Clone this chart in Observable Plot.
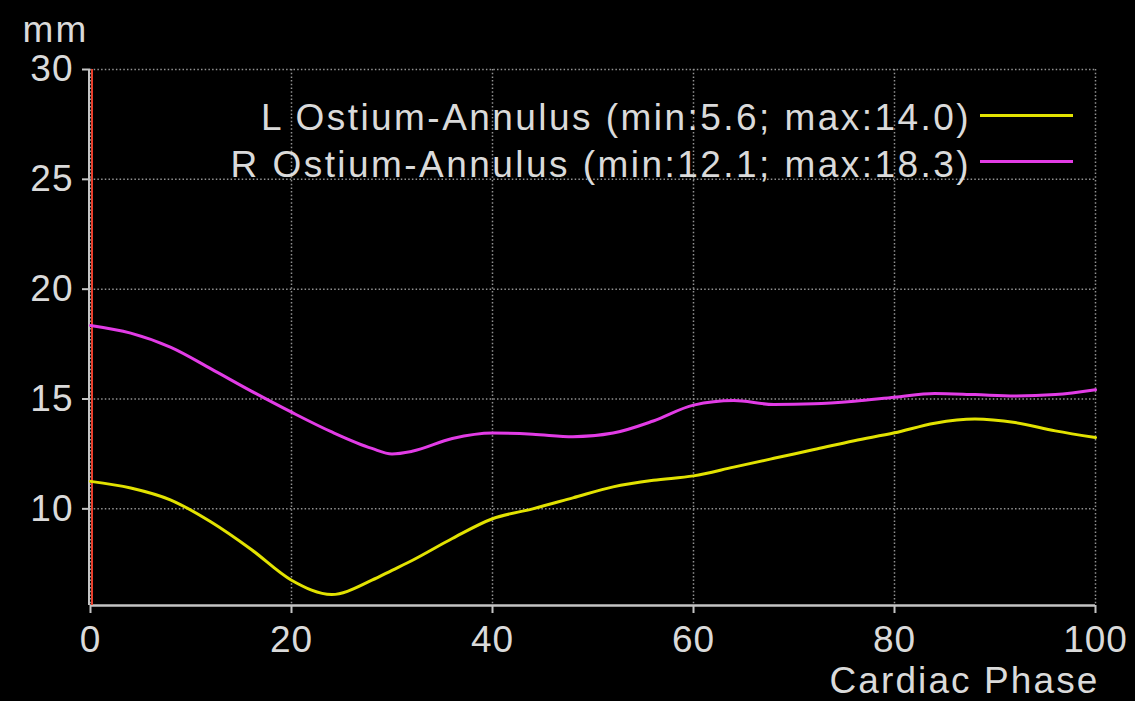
<!DOCTYPE html>
<html>
<head>
<meta charset="utf-8">
<script src="https://cdn.jsdelivr.net/npm/d3@7"></script>
<script src="https://cdn.jsdelivr.net/npm/@observablehq/plot@0.6"></script>
<style>
  html, body { margin: 0; padding: 0; background: #000; }
  #wrap { position: relative; width: 1135px; height: 701px; overflow: hidden; background: #000; }
  #wrap svg { display: block; }
  svg g[aria-label="text"] text { letter-spacing: 2.1px; }
  svg g[aria-label="x-axis tick label"] text, svg g[aria-label="y-axis tick label"] text { letter-spacing: 1px; }
  #legend { position: absolute; right: 62px; top: 95px; font-family: "Liberation Sans", Arial, sans-serif; font-size: 37px; color: #dadada; letter-spacing: 2.45px; }
  .row { display: flex; align-items: center; justify-content: flex-end; height: 46.5px; line-height: 46.5px; white-space: nowrap; }
  .sw { display: inline-block; width: 93px; height: 3px; margin-left: 9px; position: relative; top: -3px; }
</style>
</head>
<body>
<div id="wrap"></div>
<script>
// ---- data ----
const phase = [0,4,8,12,16,20,24,28,30,32,36,40,44,48,52,56,60,64,68,72,76,80,84,88,92,96,100];
const lOstium = [11.25,10.95,10.4,9.4,8.15,6.75,6.1,6.75,7.2,7.65,8.65,9.55,10.0,10.5,11.0,11.3,11.5,11.9,12.3,12.7,13.1,13.46,13.9,14.09,13.93,13.55,13.25];
const rOstium = [18.35,18.0,17.35,16.37,15.36,14.4,13.5,12.75,12.5,12.62,13.2,13.45,13.4,13.28,13.45,14.0,14.72,14.93,14.75,14.78,14.9,15.08,15.25,15.2,15.14,15.2,15.42];
const seriesNames = ["L Ostium-Annulus (min:5.6; max:14.0)", "R Ostium-Annulus (min:12.1; max:18.3)"];
const seriesColors = ["#e2e200", "#e23ce6"];
const xTicks = [0,20,40,60,80,100];
const yTicks = [10,15,20,25,30];
const xDomain = [0,100];
const yDomain = [5.6,30];
const yLabel = "mm";
const xLabel = "Cardiac Phase";

const rows = [];
phase.forEach((p,i) => rows.push({phase:p, value:lOstium[i], series:seriesNames[0]}));
phase.forEach((p,i) => rows.push({phase:p, value:rOstium[i], series:seriesNames[1]}));

const font = "'Liberation Sans', Arial, Helvetica, sans-serif";
const textColor = "#dadada";
const axisGray = "#c4c4c4";
const gridGray = "#929292";

const chart = Plot.plot({
  width: 1135,
  height: 701,
  marginLeft: 90,
  marginRight: 40,
  marginTop: 69,
  marginBottom: 96,
  style: {background: "#000", color: textColor, fontFamily: font, fontSize: "37px", overflow: "visible"},
  x: {domain: xDomain},
  y: {domain: yDomain},
  color: {domain: seriesNames, range: seriesColors},
  marks: [
    Plot.gridX(xTicks, {stroke: gridGray, strokeOpacity: 1, strokeWidth: 1.5, strokeDasharray: "1.5,2.2"}),
    Plot.gridY(yTicks, {stroke: gridGray, strokeOpacity: 1, strokeWidth: 1.5, strokeDasharray: "1.5,2.2"}),
    Plot.axisX(xTicks, {tickSize: 8, tickPadding: 12, stroke: axisGray, strokeWidth: 2, fill: textColor, fontSize: 37, label: null}),
    Plot.axisY(yTicks, {tickSize: 8, tickPadding: 9, stroke: axisGray, strokeWidth: 2, fill: textColor, fontSize: 37, label: null}),
    Plot.ruleY([yDomain[0]], {stroke: axisGray, strokeWidth: 2.5}),
    Plot.ruleX([xDomain[0]], {stroke: axisGray, strokeWidth: 2, dx: -1.5}),
    Plot.ruleX([xDomain[0]], {stroke: "#e8402c", strokeWidth: 2, dx: 1.5}),
    Plot.line(rows, {x: "phase", y: "value", z: "series", stroke: "series", curve: "monotone-x", strokeWidth: 3}),
    Plot.text([yLabel], {text: d => d, frameAnchor: "top-left", textAnchor: "start", lineAnchor: "middle", dx: -68, dy: -39, fill: textColor, fontSize: 37}),
    Plot.text([xLabel], {text: d => d, frameAnchor: "bottom-right", textAnchor: "end", lineAnchor: "middle", dx: 4, dy: 76, fill: textColor, fontSize: 37})
  ]
});

const wrap = document.getElementById("wrap");
wrap.appendChild(chart);

// legend
const legend = document.createElement("div");
legend.id = "legend";
seriesNames.forEach((name, i) => {
  const row = document.createElement("div");
  row.className = "row";
  const t = document.createElement("span");
  t.textContent = name;
  const sw = document.createElement("span");
  sw.className = "sw";
  sw.style.background = seriesColors[i];
  row.appendChild(t);
  row.appendChild(sw);
  legend.appendChild(row);
});
wrap.appendChild(legend);
</script>
</body>
</html>
